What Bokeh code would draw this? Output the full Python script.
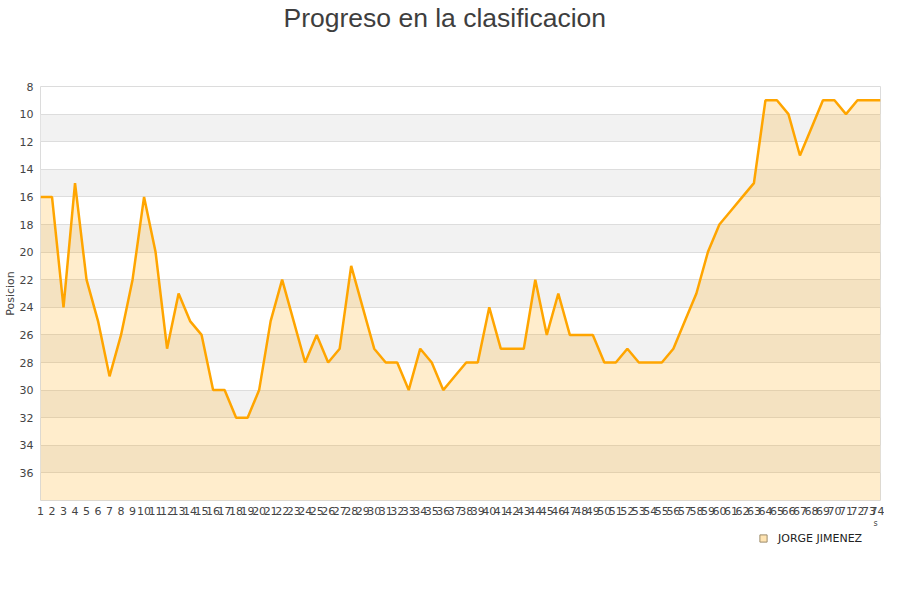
from bokeh.plotting import figure
from bokeh.layouts import column
from bokeh.models import Range1d, FixedTicker, Legend, LegendItem, ColumnDataSource, Title, Label
from bokeh.embed import file_html
from bokeh.resources import INLINE

# ---- data ----
jornadas = [1, 2, 3, 4, 5, 6, 7, 8, 9, 10, 11, 12, 13, 14, 15, 16, 17, 18, 19, 20,
            21, 22, 23, 24, 25, 26, 27, 28, 29, 30, 31, 32, 33, 34, 35, 36, 37, 38, 39, 40,
            41, 42, 43, 44, 45, 46, 47, 48, 49, 50, 51, 52, 53, 54, 55, 56, 57, 58, 59, 60,
            61, 62, 63, 64, 65, 66, 67, 68, 69, 70, 71, 72, 73, 74]
posiciones = [16, 16, 24, 15, 22, 25, 29, 26, 22, 16, 20, 27, 23, 25, 26, 30, 30, 32, 32, 30,
              25, 22, 25, 28, 26, 28, 27, 21, 24, 27, 28, 28, 30, 27, 28, 30, 29, 28, 28, 24,
              27, 27, 27, 22, 26, 23, 26, 26, 26, 28, 28, 27, 28, 28, 28, 27, 25, 23, 20, 18,
              17, 16, 15, 9, 9, 10, 13, 11, 9, 9, 10, 9, 9, 9]
y_ticks = [8, 10, 12, 14, 16, 18, 20, 22, 24, 26, 28, 30, 32, 34, 36]
y_bottom = 38
y_top = 8
serie = "JORGE JIMENEZ"
titulo = "Progreso en la clasificacion"
eje_y = "Posicion"
fragmento = "s"

source = ColumnDataSource(data=dict(x=jornadas, y=posiciones, base=[y_bottom] * len(jornadas)))

p = figure(width=884, height=519, output_backend="svg", toolbar_location=None,
           title=None,
           x_range=Range1d(jornadas[0], jornadas[-1]), y_range=Range1d(y_bottom, y_top),
           min_border_left=40, min_border_right=4, min_border_top=86, min_border_bottom=19)
p.background_fill_color = "white"
p.border_fill_color = "white"
p.outline_line_color = "#dcdcdc"

p.xgrid.visible = False
p.ygrid.grid_line_color = "#dddddd"
p.ygrid.band_fill_color = "#f2f2f2"
p.ygrid.band_fill_alpha = 1.0

p.yaxis.ticker = FixedTicker(ticks=y_ticks)
p.xaxis.ticker = FixedTicker(ticks=jornadas)
for ax in (p.xaxis, p.yaxis):
    ax.axis_line_color = None
    ax.major_tick_line_color = None
    ax.minor_tick_line_color = None
    ax.major_tick_out = 0
    ax.major_tick_in = 0
    ax.minor_tick_out = 0
    ax.minor_tick_in = 0
    ax.major_label_text_font = "DejaVu Sans"
    ax.major_label_text_font_size = "11px"
    ax.major_label_text_color = "#444444"
p.yaxis.major_label_standoff = 7
p.xaxis.major_label_standoff = 6
p.yaxis.axis_label = eje_y
p.yaxis.axis_label_standoff = 0
p.yaxis.axis_label_text_font = "DejaVu Sans"
p.yaxis.axis_label_text_font_size = "11px"
p.yaxis.axis_label_text_font_style = "normal"
p.yaxis.axis_label_text_color = "#444444"

p.varea(x="x", y1="y", y2="base", source=source, fill_color="orange", fill_alpha=0.2)
p.line(x="x", y="y", source=source, line_color="orange", line_width=2.5)

# spacer nearest to the frame, then the real title above it
p.add_layout(Title(text=" ", standoff=41, text_font_size="10px",
                   text_font="DejaVu Sans", text_color="white"), "above")
p.add_layout(Title(text=titulo, align="left", offset=243, standoff=0,
                   vertical_align="bottom",
                   text_font="Liberation Sans", text_font_size="26.5px",
                   text_font_style="normal", text_color="#3e3e3e"), "above")

# ---- legend strip below ----
q = figure(width=884, height=65, output_backend="svg", toolbar_location=None,
           title=None, x_axis_location=None, y_axis_location=None,
           x_range=Range1d(0, 1), y_range=Range1d(0, 1),
           min_border=0, min_border_left=0, min_border_right=0,
           min_border_top=0, min_border_bottom=0)
q.outline_line_color = None
q.background_fill_color = "white"
q.border_fill_color = "white"
q.grid.visible = False

dummy = q.scatter(x=[-5], y=[-5], marker="square", fill_color="orange", fill_alpha=0.3,
                  line_color="#9c8c6c", line_width=1)
legend = Legend(items=[LegendItem(label=serie, renderers=[dummy])],
                location=(714, 36.7), orientation="horizontal",
                padding=0, margin=0, glyph_width=18, glyph_height=18, label_height=18,
                label_standoff=6, border_line_color=None, background_fill_alpha=0,
                label_text_font="DejaVu Sans", label_text_font_size="11px",
                label_text_color="#222222")
q.add_layout(legend)
q.add_layout(Label(x=835, y=61, x_units="screen", y_units="screen", text=fragmento,
                   text_align="center", text_baseline="middle",
                   text_font="DejaVu Sans", text_font_size="8px", text_color="#444444"))

layout = column(p, q, spacing=0)
open("out.html", "w").write(file_html(layout, INLINE))
